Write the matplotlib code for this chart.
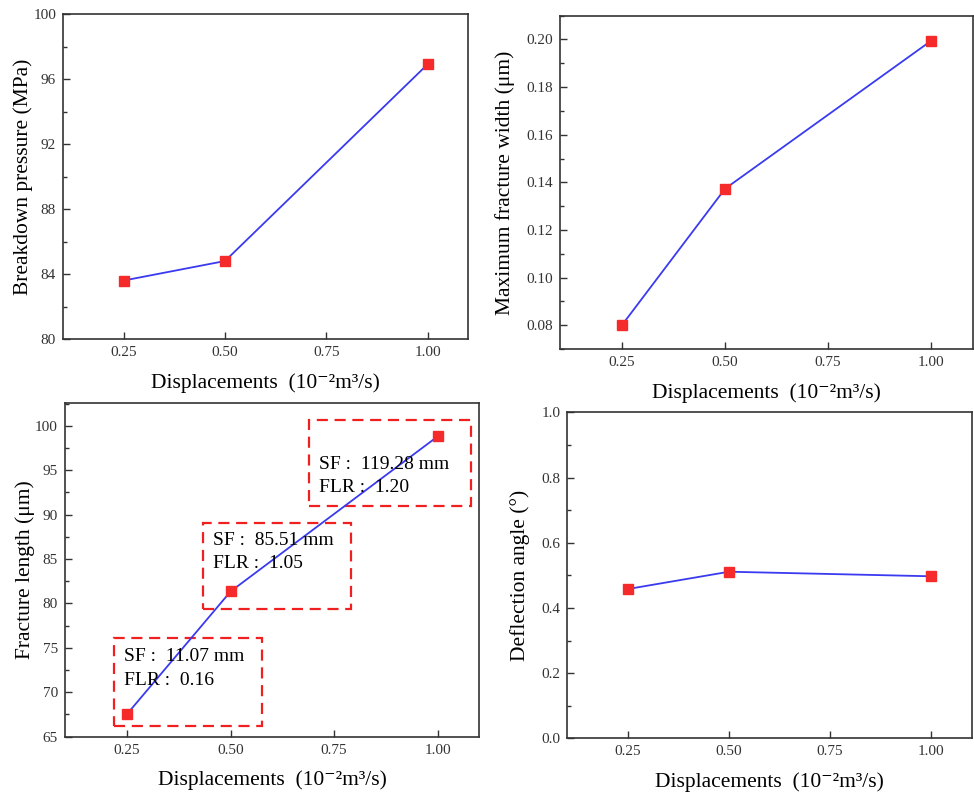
import matplotlib
matplotlib.use("Agg")
import matplotlib.pyplot as plt
from matplotlib.patches import Rectangle
from matplotlib.ticker import MultipleLocator, FuncFormatter

plt.rcParams["font.family"] = ["Liberation Serif", "DejaVu Serif"]

# Injection displacement (10^-2 m^3/s)
displacements = [0.25, 0.50, 1.00]
xticks = [0.25, 0.50, 0.75, 1.00]

breakdown_pressure = [83.6, 84.8, 96.9]          # MPa
max_fracture_width = [0.080, 0.1373, 0.1995]     # um
fracture_length = [67.55, 81.35, 98.8]           # um
deflection_angle = [0.458, 0.511, 0.497]         # deg

# Annotation boxes for the fracture-length panel
sf_values = ["11.07 mm", "85.51 mm", "119.28 mm"]
flr_values = ["0.16", "1.05", "1.20"]

xlabel = "Displacements  (10\u207b\u00b2m\u00b3/s)"

fig = plt.figure(figsize=(9.74, 7.96), dpi=100)

axes_rects = [
    [0.0647, 0.5741, 0.4158, 0.4083],
    [0.5750, 0.5616, 0.4235, 0.4187],
    [0.0667, 0.0745, 0.4251, 0.4196],
    [0.5825, 0.0725, 0.4151, 0.4095],
]

panels = [
    (breakdown_pressure, "Breakdown pressure (MPa)", (80, 100), 4, 2, "{:.0f}", 0),
    (max_fracture_width, "Maximum fracture width (\u03bcm)", (0.07, 0.21), 0.02, 0.01, "{:.2f}", 8),
    (fracture_length, "Fracture length (\u03bcm)", (65, 102.6), 5, 2.5, "{:.0f}", 0),
    (deflection_angle, "Deflection angle (\u00b0)", (0.0, 1.0), 0.2, 0.1, "{:.1f}", 8),
]

spine_color = "#333333"
axes = []
for rect, (vals, ylab, ylim, major, minor, fmt, ypad) in zip(axes_rects, panels):
    ax = fig.add_axes(rect)
    ax.plot(displacements, vals, color="#3a3af0", lw=1.3, zorder=2)
    ax.plot(displacements, vals, ls="none", marker="s", ms=6.8,
            mfc="#f52a2a", mec="#f52a2a", zorder=3)
    ax.set_xlim(0.1, 1.1)
    ax.set_ylim(*ylim)
    ax.set_xticks(xticks)
    ax.set_xticklabels(["{:.2f}".format(t) for t in xticks])
    ax.yaxis.set_major_locator(MultipleLocator(major))
    ax.yaxis.set_minor_locator(MultipleLocator(minor))
    ax.yaxis.set_major_formatter(FuncFormatter(lambda v, p, f=fmt: f.format(v)))
    for s in ax.spines.values():
        s.set_color(spine_color)
        s.set_linewidth(1.2)
    ax.tick_params(axis="both", which="major", direction="in", length=5,
                   width=1.0, color=spine_color, labelsize=11,
                   labelcolor="#333333", pad=5)
    ax.tick_params(axis="y", which="minor", direction="in", length=3,
                   width=1.0, color=spine_color)
    ax.set_xlabel(xlabel, fontsize=15.5, labelpad=10)
    ax.set_ylabel(ylab, fontsize=15.5, labelpad=ypad)
    axes.append(ax)

# Dashed annotation boxes with SF / FLR values
ax = axes[2]
boxes = [
    (0.218, 66.2, 0.575, 76.1),
    (0.434, 79.4, 0.792, 89.1),
    (0.689, 91.0, 1.081, 100.7),
]
text_pos = [(0.242, 74.0, 71.3), (0.457, 87.1, 84.5), (0.714, 95.6, 93.0)]
for (x0, y0, x1, y1), (tx, ty1, ty2), sf, flr in zip(boxes, text_pos, sf_values, flr_values):
    ax.add_patch(Rectangle((x0, y0), x1 - x0, y1 - y0, fill=False,
                           ec="#f02020", lw=1.6, ls=(0, (5, 3)), zorder=1))
    ax.text(tx, ty1, "SF :  " + sf, fontsize=14, va="center", ha="left", zorder=4)
    ax.text(tx, ty2, "FLR :  " + flr, fontsize=14, va="center", ha="left", zorder=4)

fig.savefig("out.png", dpi=100)
